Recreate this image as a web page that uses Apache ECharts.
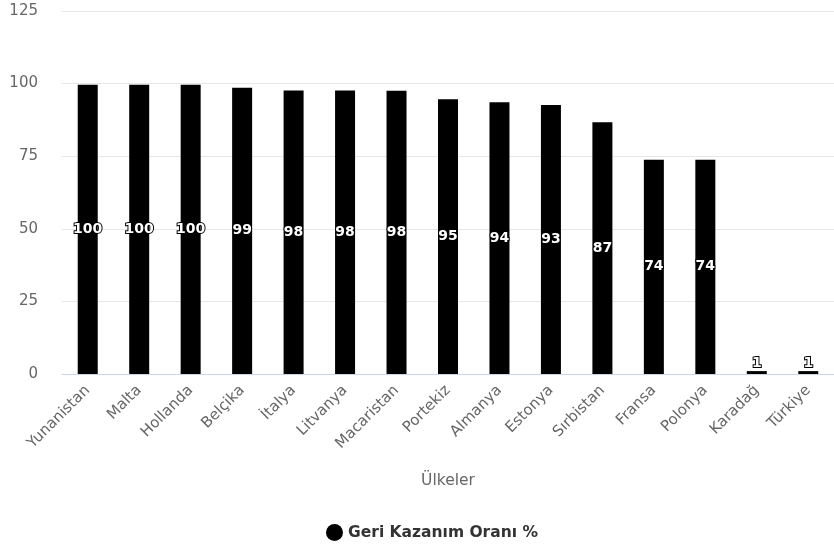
<!DOCTYPE html>
<html>
<head>
<meta charset="utf-8">
<script src="https://cdn.jsdelivr.net/npm/echarts@6/dist/echarts.min.js"></script>
<style>
  html, body { margin: 0; padding: 0; background: #fff; }
  #chart { width: 834px; height: 547px; }
</style>
</head>
<body>
<div id="chart"></div>
<script>
// Data
const countries = ['Yunanistan', 'Malta', 'Hollanda', 'Belçika', 'İtalya', 'Litvanya', 'Macaristan',
  'Portekiz', 'Almanya', 'Estonya', 'Sırbistan', 'Fransa', 'Polonya', 'Karadağ', 'Türkiye'];
const recoveryRate = [99.6, 99.6, 99.6, 98.6, 97.6, 97.6, 97.5, 94.6, 93.6, 92.6, 86.7, 73.8, 73.8, 1, 1];
const yTicks = { min: 0, max: 125, interval: 25 };

const seriesName = 'Geri Kazanım Oranı %';
const fontFamily = 'DejaVu Sans';

const chart = echarts.init(document.getElementById('chart'));

// tiny bars get their label on top, the rest in the middle of the bar
const barData = recoveryRate.map(v => {
  if (v < 5) {
    return { value: v, label: { position: 'top', distance: 1 } };
  }
  return v;
});

const option = {
  animation: false,
  textStyle: { fontFamily: fontFamily },
  grid: { left: 62, right: -2, top: 11, bottom: 173 },
  legend: {
    bottom: 1,
    left: 321,
    icon: 'circle',
    itemWidth: 17,
    itemHeight: 17,
    itemGap: 6,
    textStyle: { fontFamily: fontFamily, fontSize: 15.5, fontWeight: 'bold', color: '#333' },
    data: [seriesName]
  },
  xAxis: {
    type: 'category',
    data: countries,
    name: 'Ülkeler',
    nameLocation: 'middle',
    nameGap: 99,
    nameTextStyle: { fontFamily: fontFamily, fontSize: 15.5, color: '#666' },
    axisLine: { lineStyle: { color: '#ccd6eb', width: 1 } },
    axisTick: { show: false },
    axisLabel: { rotate: 45, margin: 14, fontSize: 15, color: '#666', fontFamily: fontFamily }
  },
  yAxis: {
    type: 'value',
    min: yTicks.min,
    max: yTicks.max,
    interval: yTicks.interval,
    axisLine: { show: false },
    axisTick: { show: false },
    axisLabel: { fontSize: 15, color: '#666', margin: 24, fontFamily: fontFamily },
    splitLine: { lineStyle: { color: '#e6e6e6' } }
  },
  series: [{
    name: seriesName,
    type: 'bar',
    data: barData,
    barWidth: 20,
    itemStyle: { color: '#000' },
    label: {
      show: true,
      position: 'inside',
      formatter: p => Math.round(p.value),
      color: '#fff',
      fontSize: 14,
      fontWeight: 'bold',
      fontFamily: fontFamily,
      textBorderColor: '#000',
      textBorderWidth: 2
    }
  }]
};

chart.setOption(option);

window.addEventListener('resize', function () {
  chart.resize();
});
</script>
</body>
</html>
